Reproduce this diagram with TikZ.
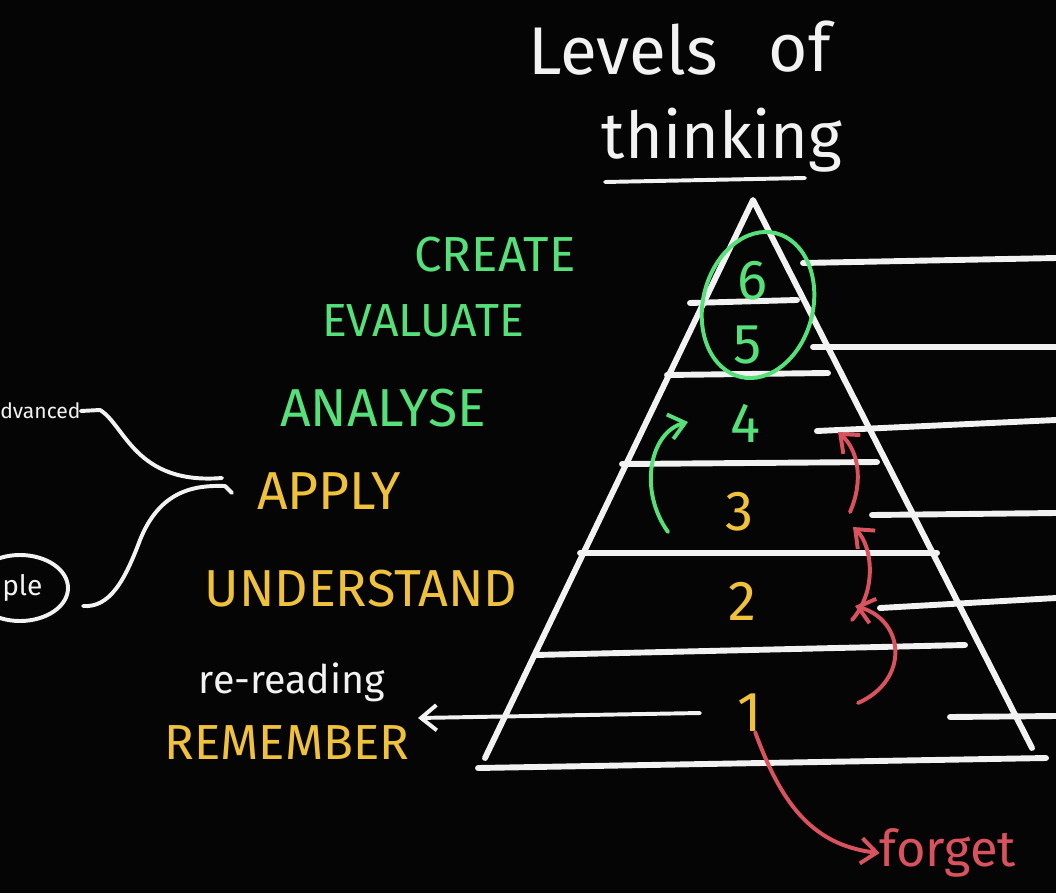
\documentclass[tikz,border=0pt]{standalone}
\usepackage{fontspec}
\setmainfont{Fira Sans}
\usetikzlibrary{arrows.meta}
\definecolor{board}{HTML}{050505}
\definecolor{chalk}{HTML}{F2F2F2}
\definecolor{mint}{HTML}{55E07A}
\definecolor{gold}{HTML}{F0C23C}
\definecolor{rose}{HTML}{D9525E}
\tikzset{
    pen/.style={line width=2.8pt,line cap=round,line join=round},
    bar/.style={line width=4.2pt,line cap=round,line join=round,chalk},
    hand/.style={inner sep=0pt,font=\fontsize{#1}{#1}\selectfont},
    barb/.style={-{Straight Barb[length=11pt,width=18pt,line width=2.8pt]}}
}
\begin{document}
\begin{tikzpicture}[x=0.025cm,y=-0.025cm]
            % Tafel
            \fill[board] (0,0) rectangle (1056,893);
            \clip (0,0) rectangle (1056,893);
            % Titel:
            \node[hand=48,chalk] (levels) at (623,50) {Levels};
            \node[hand=48,chalk] (of) at (800,47) {of};
            \node[hand=46,chalk] (thinking) at (722,140) {thinking};
            \draw[pen,chalk] (605,182) -- (805,178);
            % Pyramide:
            \coordinate (apex) at (753,200);
            \draw[bar] (485,758) -- (apex) -- (1032,748);
            \draw[bar] (478,768) -- (1046,758);
            \foreach \xa/\ya/\xb/\yb in {690/303/797/300, 667/375/828/373,
                622/464/877/462, 580/553/937/553, 535/655/965/645}
                \draw[bar] (\xa,\ya) -- (\xb,\yb);
            % Linien rechts:
            \foreach \xa/\ya/\yb in {803/263/258, 813/347/347, 817/431/420,
                872/515/513, 880/608/598, 950/717/716}
                \draw[bar] (\xa,\ya) -- (1056,\yb);
            % Stufen:
            \foreach \n/\x/\y/\c in {6/752/281/mint, 5/748/345/mint, 4/745/423/mint,
                3/740/512/gold, 2/742/601/gold, 1/750/713/gold}
                \node[hand=40,text=\c] (level\n) at (\x,\y) {\n};
            \draw[pen,mint,rotate around={-14:(758,305)}] (758,305) ellipse [x radius=55,y radius=74];
            % Namen:
            \node[hand=35,mint] (create) at (495,255) {CREATE};
            \node[hand=33,mint] (evaluate) at (423,321) {EVALUATE};
            \node[hand=38,mint] (analyse) at (383,408) {ANALYSE};
            \node[hand=38,gold] (apply) at (329,491) {APPLY};
            \node[hand=37,gold] (understand) at (361,589) {UNDERSTAND};
            \node[hand=28,chalk] (rereading) at (292,682) {re-reading};
            \node[hand=35,gold] (remember) at (287,743) {REMEMBER};
            % Pfeile:
            \coordinate (ray) at (700,713);
            \coordinate (raytip) at (418,718);
            \draw[pen,chalk,barb] (ray) -- (raytip);
            \coordinate (g0) at (668,532);
            \coordinate (g1) at (688,422);
            \draw[pen,mint,barb] (g0) .. controls (638,490) and (650,432) .. (g1);
            \coordinate (r0) at (858,703);
            \coordinate (r1) at (855,606);
            \coordinate (r2) at (852,620);
            \coordinate (r3) at (853,527);
            \coordinate (r4) at (850,512);
            \coordinate (r5) at (838,432);
            \draw[pen,rose,barb] (r0) .. controls (910,680) and (905,620) .. (r1);
            \draw[pen,rose,barb] (r2) .. controls (878,590) and (872,545) .. (r3);
            \draw[pen,rose,barb] (r4) .. controls (864,480) and (858,450) .. (r5);
            \node[hand=36,rose] (forget) at (948,853) {forget};
            \draw[pen,rose,barb] (level1.-75) .. controls (780,800) and (810,845) .. (forget.west);
            % Links:
            \node[hand=15,chalk,anchor=west] (advanced) at (0,411) {dvanced};
            \node[hand=20,chalk,anchor=west] (simple) at (2,588) {ple};
            \draw[pen,chalk] (20,588) ellipse [x radius=48,y radius=33];
            \draw[pen,chalk] (advanced.east) -- (100,410) .. controls (125,425) and (135,485) .. (222,478);
            \draw[pen,chalk] (83,606) .. controls (110,608) and (125,580) .. (140,540)
                .. controls (160,490) and (195,485) .. (225,486) -- (232,493);
        \end{tikzpicture}
\end{document}
